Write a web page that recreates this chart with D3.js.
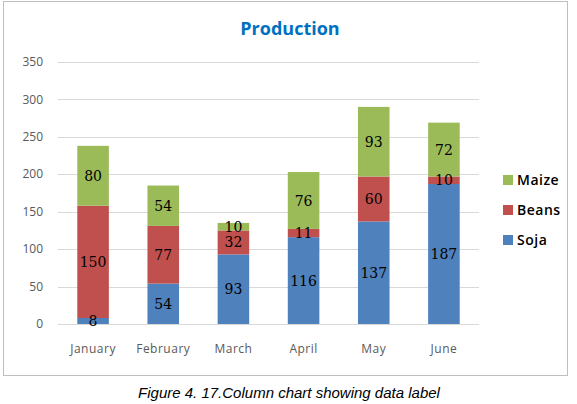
<!DOCTYPE html>
<html>
<head>
<meta charset="utf-8">
<script src="https://cdn.jsdelivr.net/npm/d3@7"></script>
<style>
  body { margin: 0; background: #fff; }
  svg { display: block; }
</style>
</head>
<body>
<svg width="577" height="404"></svg>
<script>
// chart data
const months = ["January", "February", "March", "April", "May", "June"];
const soja = [8, 54, 93, 116, 137, 187];
const beans = [150, 77, 32, 11, 60, 10];
const maize = [80, 54, 10, 76, 93, 72];
const seriesNames = ["Soja", "Beans", "Maize"];
const yTicks = [0, 50, 100, 150, 200, 250, 300, 350];

const colors = { Soja: "#4F81BD", Beans: "#C0504D", Maize: "#9BBB59" };

const svg = d3.select("svg");

// frame around chart
svg.append("rect")
    .attr("x", 3.5).attr("y", 1.5)
    .attr("width", 564).attr("height", 374)
    .attr("fill", "#fff")
    .attr("stroke", "#bfbfbf");

const margin = { left: 58, right: 479, top: 62, bottom: 324 };

const x = d3.scaleBand()
    .domain(months)
    .range([margin.left, margin.right])
    .paddingInner(0.55)
    .paddingOuter(0.275);

const y = d3.scaleLinear()
    .domain([0, 350])
    .range([margin.bottom, margin.top]);

// gridlines
svg.append("g")
    .selectAll("line")
    .data(yTicks)
    .join("line")
    .attr("x1", margin.left).attr("x2", margin.right)
    .attr("y1", d => Math.round(y(d)) + 0.5)
    .attr("y2", d => Math.round(y(d)) + 0.5)
    .attr("stroke", "#d9d9d9");

// y axis labels
svg.append("g")
    .selectAll("text")
    .data(yTicks)
    .join("text")
    .attr("x", 43)
    .attr("y", d => y(d))
    .attr("dy", "0.35em")
    .attr("text-anchor", "end")
    .attr("font-family", "Open Sans, sans-serif")
    .attr("font-size", 12)
    .attr("fill", "#595959")
    .text(d => d);

// x axis labels
svg.append("g")
    .selectAll("text")
    .data(months)
    .join("text")
    .attr("x", d => x(d) + x.bandwidth() / 2)
    .attr("y", 349)
    .attr("dy", "0.35em")
    .attr("text-anchor", "middle")
    .attr("font-family", "Open Sans, sans-serif")
    .attr("font-size", 12)
    .attr("letter-spacing", 0.5)
    .attr("fill", "#595959")
    .text(d => d);

// stack the series
const table = months.map((m, i) => ({ month: m, Soja: soja[i], Beans: beans[i], Maize: maize[i] }));
const stacked = d3.stack().keys(seriesNames)(table);

const layers = svg.append("g")
    .selectAll("g")
    .data(stacked)
    .join("g")
    .attr("fill", d => colors[d.key]);

layers.selectAll("rect")
    .data(d => d)
    .join("rect")
    .attr("x", d => x(d.data.month))
    .attr("width", x.bandwidth())
    .attr("y", d => y(d[1]))
    .attr("height", d => y(d[0]) - y(d[1]));

// data labels
const labels = svg.append("g");
stacked.forEach(layer => {
    labels.selectAll(null)
        .data(layer)
        .join("text")
        .attr("x", d => x(d.data.month) + x.bandwidth() / 2)
        .attr("y", d => (y(d[0]) + y(d[1])) / 2)
        .attr("dy", "0.36em")
        .attr("text-anchor", "middle")
        .attr("font-family", "DejaVu Serif, serif")
        .attr("font-size", 14)
        .attr("fill", "#000")
        .text(d => d[1] - d[0]);
});

// title
svg.append("text")
    .attr("x", 290)
    .attr("y", 29)
    .attr("dy", "0.35em")
    .attr("text-anchor", "middle")
    .attr("font-family", "Open Sans, sans-serif")
    .attr("font-weight", "bold")
    .attr("font-size", 18)
    .attr("fill", "#0070C0")
    .text("Production");

// legend
const legendItems = ["Maize", "Beans", "Soja"];
const legend = svg.append("g")
    .selectAll("g")
    .data(legendItems)
    .join("g")
    .attr("transform", (d, i) => `translate(503, ${180 + i * 30})`);

legend.append("rect")
    .attr("x", 0).attr("y", -5)
    .attr("width", 10).attr("height", 10)
    .attr("fill", d => colors[d]);

legend.append("text")
    .attr("x", 14)
    .attr("y", 0)
    .attr("dy", "0.35em")
    .attr("font-family", "Open Sans, sans-serif")
    .attr("font-weight", "600")
    .attr("font-size", 14)
    .attr("letter-spacing", 0.5)
    .attr("fill", "#000")
    .text(d => d);

// caption
svg.append("text")
    .attr("x", 289)
    .attr("y", 393)
    .attr("dy", "0.35em")
    .attr("text-anchor", "middle")
    .attr("font-family", "Liberation Sans, Arial, sans-serif")
    .attr("font-style", "italic")
    .attr("font-size", 15)
    .attr("fill", "#000")
    .text("Figure 4. 17.Column chart showing data label");
</script>
</body>
</html>
